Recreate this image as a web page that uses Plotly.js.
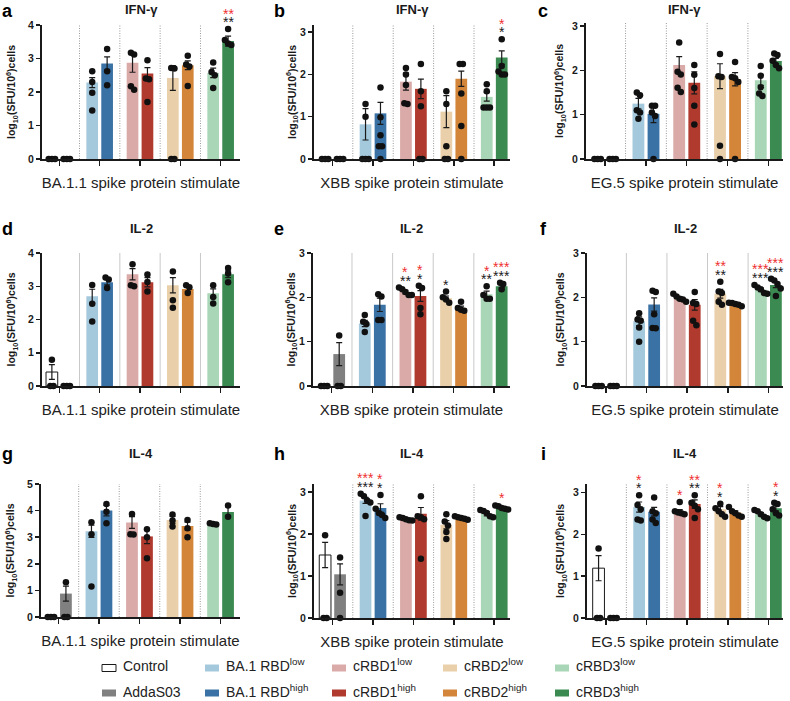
<!DOCTYPE html>
<html><head><meta charset="utf-8">
<script src="https://cdn.plot.ly/plotly-3.0.1.min.js"></script>
<style>html,body{margin:0;padding:0;background:#fff}</style>
</head><body><div id="chart" style="width:790px;height:701px"></div>
<script>
// ---------------- DATA ----------------
const SERIES = ['Control','AddaS03','BA.1 RBD<sup>low</sup>','BA.1 RBD<sup>high</sup>','cRBD1<sup>low</sup>','cRBD1<sup>high</sup>','cRBD2<sup>low</sup>','cRBD2<sup>high</sup>','cRBD3<sup>low</sup>','cRBD3<sup>high</sup>'];
const GROUPS = ['Control / AddaS03','BA.1 RBD','cRBD1','cRBD2','cRBD3'];
const PANEL_LETTERS = ['a','b','c','d','e','f','g','h','i'];
const CYTOKINES = ['IFN-γ','IFN-γ','IFN-γ','IL-2','IL-2','IL-2','IL-4','IL-4','IL-4'];
const STIMULI = ['BA.1.1 spike protein stimulate','XBB spike protein stimulate','EG.5 spike protein stimulate'];

// Panel a: IFN-γ, BA.1.1
const A_MEAN = [0, 0, 2.28, 2.85, 2.87, 2.55, 2.42, 2.80, 2.57, 3.52];
const A_SEM  = [0, 0, 0.15, 0.20, 0.28, 0.18, 0.37, 0.13, 0.14, 0.15];
const A_PTS  = [[0,0,0],[0,0,0],[2.62,2.30,1.98,1.45],[3.28,2.62,2.20],[3.17,3.12,2.17,2.07],[2.95,2.40,2.38,1.70],[2.72,2.70,0,0],[3.08,2.82,2.76,2.18],[2.88,2.60,2.50,2.12],[3.88,3.55,3.45,3.40]];
const A_BLACK = ['','','','','','','','','','**'];
const A_RED   = ['','','','','','','','','','**'];

// Panel b: IFN-γ, XBB
const B_MEAN = [0, 0, 0.82, 1.08, 1.83, 1.66, 1.12, 1.90, 1.47, 2.40];
const B_SEM  = [0, 0, 0.37, 0.26, 0.20, 0.23, 0.38, 0.18, 0.10, 0.16];
const B_PTS  = [[0,0,0],[0,0,0],[1.30,1.00,0,0,0],[1.69,0.99,0.56,0.30,0.30,0],[2.15,2.00,1.75,1.32,1.30],[2.25,1.60,1.25,0,0],[1.60,1.30,0.30,0,0],[2.25,2.25,1.55,0.78,0],[1.77,1.60,1.22,1.22,1.22],[2.83,2.20,2.07,2.00,2.00]];
const B_BLACK = ['','','','','','','','','','*'];
const B_RED   = ['','','','','','','','','','*'];

// Panel c: IFN-γ, EG.5
const C_MEAN = [0, 0, 1.25, 1.02, 2.12, 1.72, 1.87, 1.80, 1.78, 2.21];
const C_SEM  = [0, 0, 0.12, 0.20, 0.19, 0.25, 0.28, 0.15, 0.12, 0.06];
const C_PTS  = [[0,0,0],[0,0,0],[1.50,1.44,1.10,1.05,0.91],[1.20,1.20,1.05,0.97,0],[2.63,1.97,1.91,1.61,1.51],[2.12,1.90,1.60,1.20,0.78],[2.37,1.87,1.85,0.30,0],[2.19,1.85,1.82,1.74,0],[2.10,1.88,1.62,1.48,1.42],[2.38,2.35,2.22,2.12,2.05]];
const C_BLACK = ['','','','','','','','','',''];
const C_RED   = ['','','','','','','','','',''];

// Panel d: IL-2, BA.1.1
const D_MEAN = [0.42, 0, 2.70, 3.12, 3.36, 3.12, 3.03, 2.92, 2.79, 3.36];
const D_SEM  = [0.22, 0, 0.21, 0.08, 0.17, 0.14, 0.23, 0.07, 0.13, 0.10];
const D_PTS  = [[0.79,0,0],[0,0,0],[3.04,2.47,1.94],[3.26,3.20,2.95],[3.66,3.03,3.00],[3.35,3.13,2.84],[3.44,2.58,2.35],[3.03,2.97,2.80],[3.03,2.68,2.48],[3.55,3.38,3.12]];
const D_BLACK = ['','','','','','','','','',''];
const D_RED   = ['','','','','','','','','',''];

// Panel e: IL-2, XBB
const E_MEAN = [0, 0.72, 1.41, 1.83, 2.12, 2.03, 1.98, 1.76, 2.07, 2.25];
const E_SEM  = [0, 0.26, 0.07, 0.15, 0.04, 0.12, 0.05, 0.04, 0.07, 0.03];
const E_PTS  = [[0,0,0],[1.14,0,0],[1.60,1.45,1.40,1.22],[2.07,2.02,1.49,1.49],[2.22,2.18,2.12,2.05,2.05],[2.26,2.21,1.76,1.62],[2.13,2.00,1.95,1.88],[1.90,1.76,1.72,1.70],[2.25,2.05,1.97,1.97],[2.33,2.30,2.18]];
const E_BLACK = ['','','','','**','*','*','','**','***'];
const E_RED   = ['','','','','*','*','','','*','***'];

// Panel f: IL-2, EG.5
const F_MEAN = [0, 0, 1.46, 1.84, 1.97, 1.83, 2.08, 1.85, 2.17, 2.28];
const F_SEM  = [0, 0, 0.10, 0.15, 0.04, 0.12, 0.10, 0.02, 0.04, 0.06];
const F_PTS  = [[0,0,0],[0,0,0],[1.64,1.50,1.47,1.32,1.00],[2.15,2.12,1.62,1.31,1.30],[2.08,2.02,1.97,1.95,1.90],[2.12,1.87,1.85,1.47,1.37],[2.35,2.13,2.10,1.90,1.83],[1.88,1.87,1.85,1.83,1.80],[2.28,2.22,2.18,2.10,2.08],[2.42,2.38,2.30,2.20,2.03]];
const F_BLACK = ['','','','','','','**','','***','***'];
const F_RED   = ['','','','','','','**','','***','***'];

// Panel g: IL-4, BA.1.1
const G_MEAN = [0, 0.88, 3.22, 4.00, 3.55, 3.03, 3.65, 3.42, 3.50, 3.95];
const G_SEM  = [0, 0.28, 0.23, 0.20, 0.22, 0.27, 0.13, 0.15, 0.02, 0.20];
const G_PTS  = [[0,0,0],[1.31,0,0],[3.56,3.11,1.15],[4.25,3.96,3.52],[3.87,3.11,3.10],[3.30,3.00,2.21],[3.85,3.63,3.40],[3.65,3.34,3.00],[3.52,3.50,3.48],[4.19,3.77]];
const G_BLACK = ['','','','','','','','','',''];
const G_RED   = ['','','','','','','','','',''];

// Panel h: IL-4, XBB
const H_MEAN = [1.50, 1.04, 2.80, 2.62, 2.35, 2.48, 2.22, 2.38, 2.48, 2.62];
const H_SEM  = [0.30, 0.25, 0.07, 0.10, 0.02, 0.15, 0.10, 0.02, 0.05, 0.03];
const H_PTS  = [[1.97,0,0],[1.44,0.60,0],[2.96,2.90,2.80,2.75,2.43],[2.93,2.60,2.50,2.45,2.38],[2.40,2.38,2.35,2.33,2.32],[2.90,2.42,2.40,2.35,1.41],[2.47,2.30,2.20,2.05,1.88],[2.42,2.40,2.38,2.36,2.34],[2.57,2.55,2.50,2.42,2.40],[2.68,2.66,2.62,2.60,2.58]];
const H_BLACK = ['','','***','*','','','','','',''];
const H_RED   = ['','','***','*','','','','','','*'];

// Panel i: IL-4, EG.5
const I_MEAN = [1.19, 0, 2.65, 2.54, 2.55, 2.72, 2.60, 2.52, 2.48, 2.62];
const I_SEM  = [0.30, 0, 0.12, 0.10, 0.04, 0.10, 0.06, 0.04, 0.04, 0.06];
const I_PTS  = [[1.66,0,0],[0,0,0],[2.93,2.70,2.60,2.35,2.33],[2.88,2.55,2.50,2.35,2.27],[2.77,2.55,2.52,2.50,2.48],[2.93,2.75,2.68,2.60,2.39],[2.73,2.62,2.55,2.48,2.42],[2.65,2.55,2.50,2.45,2.42],[2.58,2.55,2.48,2.42,2.38],[2.75,2.72,2.60,2.50,2.45]];
const I_BLACK = ['','','*','','','**','*','','','*'];
const I_RED   = ['','','*','','*','**','*','','','*'];

// ---------------- STYLE / GEOMETRY ----------------
const W = 790, H = 701;
const FONT = '"Liberation Sans", Arial, Helvetica, sans-serif';
const COLORS = ['#ffffff','#808080','#a5c9dc','#3b72a5','#d9aaa8','#b03a2e','#e9d0ab','#d3863a','#a9d6b6','#3a8a51'];
const RED = '#ee2f2f', INK = '#1a1a1a';
// plot boxes in page pixels: [left, right, top, bottom(y=0)]
const BOX = [[42,240,25,159],[314,510,25,159],[586,783,23,159],
             [42,240,253,386],[313,510,253,386],[587,783,253,386],
             [41,240,484,617],[314,510,484,618],[587,783,484,618]];
const YTOP = [4, 3.17, 3.07, 4, 3, 3, 5, 3.19, 3.2];
const XR = [[-0.43,4.48],[-0.46,4.39],[-0.47,4.36]];
const YSTAND = [10, 1, 6];
const ROW_TITLE_Y = [10, 228, 453];
const ROW_LETTER_TOP = [0, 218, 443];
const LETTER_X = [7, 279, 543];
const GROUP_OFF = 0.185, BAR_W = 0.29;
const LEG_TEXT_X = [122, 225, 352, 463, 575];
const LEG_ROW_Y = [668, 693];      // swatch centre rows
const LEG_TEXT_BOTTOM = [675, 700.5];

const PANELS = [
  [A_MEAN,A_SEM,A_PTS,A_BLACK,A_RED],[B_MEAN,B_SEM,B_PTS,B_BLACK,B_RED],[C_MEAN,C_SEM,C_PTS,C_BLACK,C_RED],
  [D_MEAN,D_SEM,D_PTS,D_BLACK,D_RED],[E_MEAN,E_SEM,E_PTS,E_BLACK,E_RED],[F_MEAN,F_SEM,F_PTS,F_BLACK,F_RED],
  [G_MEAN,G_SEM,G_PTS,G_BLACK,G_RED],[H_MEAN,H_SEM,H_PTS,H_BLACK,H_RED],[I_MEAN,I_SEM,I_PTS,I_BLACK,I_RED]];

const traces = [], shapes = [], annotations = [];
const layout = {
  width: W, height: H, margin: {l:0,r:0,t:0,b:0}, autosize: false,
  paper_bgcolor: '#fff', plot_bgcolor: 'rgba(0,0,0,0)', barmode: 'overlay',
  font: {family: FONT, color: INK}, showlegend: false, hovermode: false
};

function swarm(vals, pxPerY) {
  const order = vals.map((v,i)=>i).sort((a,b)=>vals[b]-vals[a]);
  const off = new Array(vals.length).fill(0);
  let cluster = [order[0]];
  const flush = () => {
    const m = cluster.length;
    cluster.forEach((idx,j)=>{ off[idx] = (j-(m-1)/2)*3.2; });
  };
  for (let k=1;k<order.length;k++){
    const prev = order[k-1], cur = order[k];
    if ((vals[prev]-vals[cur])*pxPerY < 4.5) cluster.push(cur);
    else { flush(); cluster=[cur]; }
  }
  flush();
  return off;
}

PANELS.forEach((P, p) => {
  const [mean, sem, pts, blk, red] = P;
  const col = p % 3, row = Math.floor(p/3);
  const suf = p === 0 ? '' : String(p+1);
  const xa = 'x'+suf, ya = 'y'+suf;
  const [x0,x1,yt,yb] = BOX[p];
  const xr = XR[col];
  const pxPerX = (x1-x0)/(xr[1]-xr[0]);
  const pxPerY = (yb-yt)/YTOP[p];
  const ticks = []; for (let t=0;t<=Math.floor(YTOP[p]+1e-9);t++) ticks.push(t);

  layout['xaxis'+suf] = {
    domain: [x0/W, x1/W], range: xr, anchor: ya, fixedrange: true,
    showline: true, linewidth: 2, linecolor: INK, showgrid: false, zeroline: false,
    tickmode: 'array', tickvals: GROUPS.map((g,i)=>i),
    ticks: 'outside', ticklen: 5, tickwidth: 1.5, tickcolor: INK, showticklabels: false,
    title: {text: STIMULI[col], font: {family: FONT, size: 15, color: '#222'}, standoff: 12}
  };
  layout['yaxis'+suf] = {
    domain: [1-yb/H, 1-yt/H], range: [0, YTOP[p]], anchor: xa, fixedrange: true,
    showline: true, linewidth: 2, linecolor: INK, showgrid: false, zeroline: false,
    tickmode: 'array', tickvals: ticks, ticks: 'outside', ticklen: 4, tickwidth: 1.5, tickcolor: INK,
    tickfont: {family: FONT, size: 10.5, weight: 'bold', color: INK},
    title: {text: 'log<sub>10</sub>(SFU/10<sup>6</sup>)cells', font: {family: FONT, size: 10.5, weight: 'bold', color: INK}, standoff: YSTAND[col]}
  };

  // group separators
  for (let g=0; g<GROUPS.length-1; g++) {
    shapes.push({type:'line', xref: xa, yref: ya+' domain', x0: g+0.5, x1: g+0.5, y0: 0, y1: 1,
      layer: 'below', line: row===1 ? {color:'#c9c9c9', width:1} : {color:'#9a9a9a', width:1, dash:'1px,1.5px'}});
  }

  const px = [], py = [];
  mean.forEach((m, s) => {
    const bx = Math.floor(s/2) + (s%2===0 ? -GROUP_OFF : GROUP_OFF);
    traces.push({
      type: 'bar', x: [bx], y: [m], width: [BAR_W], xaxis: xa, yaxis: ya,
      name: SERIES[s], showlegend: false,
      marker: {color: COLORS[s], line: {color: s===0 ? INK : COLORS[s], width: s===0 ? 1 : 0}},
      error_y: {type: 'data', array: [sem[s]], visible: sem[s] > 0, color: INK, thickness: 1.2, width: 3},
      hoverinfo: 'skip'
    });
    const off = swarm(pts[s], pxPerY);
    pts[s].forEach((v,k) => { px.push(bx + off[k]/pxPerX); py.push(v); });

    // significance stars (black nearest the data, red stacked above)
    const top = Math.max(Math.max(...pts[s]), m + sem[s]);
    const slots = [];
    if (blk[s]) slots.push({t: blk[s], c: INK});
    if (red[s]) slots.push({t: red[s], c: RED});
    slots.forEach((sl, k) => {
      annotations.push({x: bx, y: top, xref: xa, yref: ya, text: sl.t, showarrow: false,
        yanchor: 'bottom', xanchor: 'center', yshift: -2 + 8.5*k, borderpad: 0,
        font: {family: FONT, size: 14, color: sl.c}});
    });
  });
  traces.push({type: 'scatter', mode: 'markers', x: px, y: py, xaxis: xa, yaxis: ya,
    marker: {color: '#111', size: 6.5, line: {width: 0}}, cliponaxis: false,
    showlegend: false, hoverinfo: 'skip'});

  // panel title & letter
  annotations.push({xref: 'paper', yref: 'paper', x: ((x0+x1)/2)/W, y: 1-ROW_TITLE_Y[row]/H,
    text: '<b>'+CYTOKINES[p]+'</b>', showarrow: false, xanchor: 'center', yanchor: 'middle',
    font: {family: FONT, size: 13, color: INK}});
  annotations.push({xref: 'paper', yref: 'paper', x: LETTER_X[col]/W, y: 1-ROW_LETTER_TOP[row]/H,
    text: '<b>'+PANEL_LETTERS[p]+'</b>', showarrow: false, xanchor: 'center', yanchor: 'top', borderpad: 0,
    font: {family: FONT, size: 18, color: '#000'}});
});

// legend: swatches + labels in 2 rows x 5 columns
SERIES.forEach((name, s) => {
  const colI = Math.floor(s/2), rowI = s%2;
  const tx = LEG_TEXT_X[colI], ty = LEG_ROW_Y[rowI];
  shapes.push({type: 'rect', xref: 'paper', yref: 'paper',
    x0: (tx-20)/W, x1: (tx-6)/W, y0: 1-(ty+3.5)/H, y1: 1-(ty-3.5)/H,
    fillcolor: COLORS[s], line: {color: s===0 ? INK : COLORS[s], width: s===0 ? 1 : 0}});
  annotations.push({xref: 'paper', yref: 'paper', x: tx/W, y: 1-LEG_TEXT_BOTTOM[rowI]/H, text: name, showarrow: false,
    xanchor: 'left', yanchor: 'bottom', borderpad: 0, font: {family: FONT, size: 14, color: '#222'}});
});

layout.shapes = shapes;
layout.annotations = annotations;
Plotly.newPlot('chart', traces, layout, {staticPlot: true, displayModeBar: false});
</script></body></html>
